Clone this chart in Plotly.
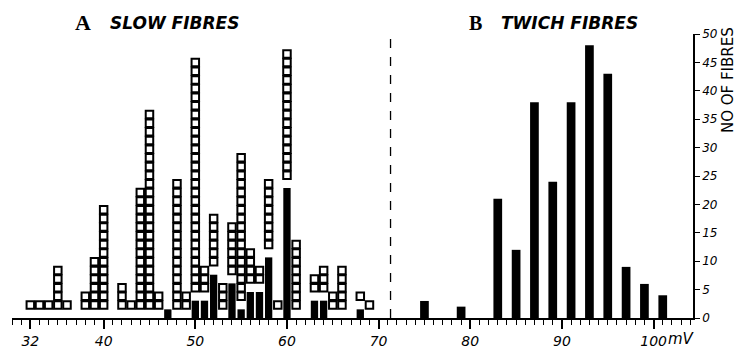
import plotly.graph_objects as go

# ---- Data ----
# A: slow fibres, per mV column: open squares and filled squares (counts)
slow_mv = [32, 33, 34, 35, 36, 38, 39, 40, 42, 43, 44, 45, 46, 47, 48, 49, 50,
           51, 52, 53, 54, 55, 56, 57, 58, 59, 60, 61, 63, 64, 65, 66, 68, 69]
slow_open = [1, 1, 1, 5, 1, 2, 6, 12, 3, 1, 14, 23, 2, 0, 15, 2, 27,
             3, 6, 3, 6, 17, 4, 2, 8, 1, 15, 8, 2, 3, 2, 5, 1, 1]
slow_filled = [0, 0, 0, 0, 0, 0, 0, 0, 0, 0, 0, 0, 0, 1, 0, 0, 2,
               2, 5, 0, 4, 1, 3, 3, 7, 0, 15, 0, 2, 2, 0, 0, 1, 0]

# B: twitch fibres
twitch_mv = [75, 79, 83, 85, 87, 89, 91, 93, 95, 97, 99, 101]
twitch_n = [3, 2, 21, 12, 38, 24, 38, 48, 43, 9, 6, 4]

x_tick_vals = [32, 40, 50, 60, 70, 80, 90, 100]
x_tick_text = ["32", "40", "50", "60", "70", "80", "90", "100"]
y_tick_vals = list(range(0, 55, 5))

DIVIDER_MV = 71.3

# ---- Build open-square positions (stacked above filled + one row) ----
sq_x, sq_y = [], []
for mv, o, f in zip(slow_mv, slow_open, slow_filled):
    for i in range(o):
        sq_x.append(mv)
        sq_y.append(f + 1 + i + 0.5)

fig = go.Figure()

fig.add_trace(go.Bar(x=slow_mv, y=slow_filled, width=0.8, yaxis="y2",
                     marker=dict(color="black", line=dict(width=0)),
                     showlegend=False))
fig.add_trace(go.Scatter(x=sq_x, y=sq_y, mode="markers", yaxis="y2",
                         marker=dict(symbol="square-open", size=7.5, color="black",
                                     line=dict(width=2, color="black")),
                         showlegend=False))
fig.add_trace(go.Bar(x=twitch_mv, y=twitch_n, width=0.95,
                     marker=dict(color="black", line=dict(width=0)),
                     showlegend=False))

tick_font = dict(family="DejaVu Sans", size=14, color="black", style="italic")

fig.update_layout(
    width=744, height=361,
    margin=dict(l=12, r=51, t=34, b=32),
    paper_bgcolor="white", plot_bgcolor="white",
    barmode="overlay",
    xaxis=dict(range=[30, 104.3], showgrid=False, zeroline=False,
               showline=True, linecolor="black", linewidth=1.5,
               tickmode="array", tickvals=x_tick_vals, ticktext=x_tick_text,
               ticks="outside", ticklen=9, tickwidth=1.5, tickcolor="black",
               tickfont=tick_font,
               minor=dict(dtick=1, tick0=30, ticks="outside", ticklen=5,
                          tickwidth=1.2, tickcolor="black", showgrid=False)),
    yaxis=dict(range=[0, 50], side="right", showgrid=False, zeroline=False,
               showline=True, linecolor="black", linewidth=1.5,
               tickmode="array", tickvals=y_tick_vals,
               ticks="outside", ticklen=5, tickwidth=1.2, tickcolor="black",
               tickfont=dict(family="DejaVu Sans", size=12, color="black", style="italic")),
    yaxis2=dict(range=[0, 32.8], overlaying="y", visible=False),
    shapes=[dict(type="line", xref="x", yref="paper", x0=DIVIDER_MV, x1=DIVIDER_MV,
                 y0=0, y1=1.01, line=dict(color="black", width=1.3, dash="dash"))],
    annotations=[
        dict(text="<b>A</b>", xref="x", yref="paper", x=37.8, y=1.04, yanchor="middle",
             xanchor="center", showarrow=False,
             font=dict(family="Liberation Serif", size=22, color="black")),
        dict(text="<b><i>SLOW FIBRES</i></b>", xref="x", yref="paper", x=47.7, y=1.04,
             yanchor="middle", xanchor="center", showarrow=False,
             font=dict(family="DejaVu Sans", size=17, color="black")),
        dict(text="<b>B</b>", xref="x", yref="paper", x=80.6, y=1.04, yanchor="middle",
             xanchor="center", showarrow=False,
             font=dict(family="Liberation Serif", size=20, color="black")),
        dict(text="<b><i>TWICH FIBRES</i></b>", xref="x", yref="paper", x=90.8, y=1.04,
             yanchor="middle", xanchor="center", showarrow=False,
             font=dict(family="DejaVu Sans", size=17, color="black")),
        dict(text="NO OF FIBRES", xref="paper", yref="y", x=1, xshift=35, y=41.9,
             xanchor="center", yanchor="middle", textangle=-90, showarrow=False,
             font=dict(family="DejaVu Sans", size=15, color="black")),
        dict(text="<i>mV</i>", xref="x", yref="paper", x=100, xshift=28, y=0,
             yshift=-21, xanchor="center", yanchor="middle", showarrow=False,
             font=dict(family="DejaVu Sans", size=15, color="black")),
    ],
)

fig.write_html("out.html")
